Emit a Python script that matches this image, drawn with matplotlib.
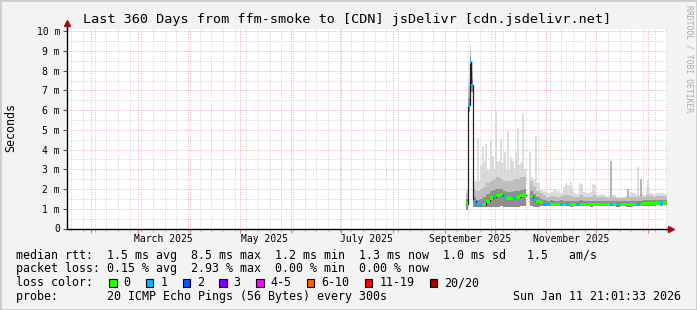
import numpy as np
import pandas as pd
import matplotlib
matplotlib.use("Agg")
import matplotlib.pyplot as plt
import matplotlib.dates as mdates
from matplotlib.ticker import MultipleLocator, FuncFormatter, NullFormatter
from matplotlib.patches import Rectangle

nan = np.nan

# sample times: daily around the spike, then every 2 days
dates = (pd.to_datetime(["2025-09-14", "2025-09-15", "2025-09-16", "2025-09-17"])
         .append(pd.date_range("2025-09-18", "2026-01-10", freq="2D"))
         .append(pd.to_datetime(["2026-01-11"])))

# median rtt in ms
med = [1.26, 6.25, 8.44, 7.26, 1.38, 1.21, 1.21, 1.21, 1.38, 1.55,
       1.62, 1.69, 1.72, 1.58, 1.55, 1.52, 1.55, 1.60, 1.66, 1.70,
       nan, 1.62, 1.45, 1.36, 1.30, 1.25,
       1.22, 1.23, 1.22, 1.22, 1.23, 1.22, 1.22, 1.21, 1.22, 1.22, 1.23, 1.22, 1.22, 1.21, 1.22,
       1.22, 1.22, 1.23, 1.22, 1.22, 1.22, 1.21, 1.22, 1.22, 1.21, 1.20, 1.22, 1.23, 1.22, 1.27, 1.28,
       1.28, 1.28, 1.29, 1.28, 1.29, 1.30]

# lost pings per sample (0 or 1 of 20)
loss = [0, 1, 1, 1, 1, 1, 1, 0, 0, 0,
        1, 0, 0, 1, 0, 0, 1, 0, 0, 0,
        0, 0, 1, 0, 0, 1,
        1, 0, 0, 0, 1, 0, 1, 0, 0, 1, 0, 0, 0, 0, 0,
        0, 0, 0, 0, 1, 0, 1, 0, 0, 0, 0, 0, 1, 0, 0, 0,
        0, 0, 0, 1, 0, 0]

# smoke: lowest ping, top of dark band, top of medium band, highest ping
lo = [0.95, 5.90, 7.90, 6.90, 1.10, 1.08, 1.08, 1.08, 1.09, 1.10,
      1.11, 1.11, 1.12, 1.11, 1.10, 1.10, 1.11, 1.11, 1.12, 1.12,
      nan, 1.12, 1.11, 1.11, 1.12, 1.12,
      1.12, 1.13, 1.12, 1.12, 1.13, 1.12, 1.12, 1.11, 1.12, 1.12, 1.13, 1.12, 1.12, 1.11, 1.12,
      1.12, 1.12, 1.13, 1.12, 1.12, 1.12, 1.11, 1.12, 1.12, 1.11, 1.10, 1.12, 1.13, 1.12, 1.15, 1.16,
      1.16, 1.16, 1.17, 1.16, 1.17, 1.18]

dark_hi = [1.50, 6.60, 8.70, 7.60, 1.60, 1.45, 1.50, 1.60, 1.75, 1.90,
           1.95, 2.00, 2.00, 1.90, 1.85, 1.85, 1.90, 1.90, 1.95, 2.00,
           nan, 1.90, 1.75, 1.60, 1.50, 1.45,
           1.40, 1.42, 1.40, 1.41, 1.42, 1.40, 1.41, 1.39, 1.40, 1.41, 1.42, 1.40, 1.40, 1.39, 1.41,
           1.40, 1.40, 1.41, 1.40, 1.40, 1.41, 1.39, 1.40, 1.40, 1.39, 1.38, 1.40, 1.41, 1.40, 1.44, 1.45,
           1.45, 1.45, 1.46, 1.45, 1.46, 1.46]

mid_hi = [1.80, 7.20, 9.00, 8.00, 2.00, 1.90, 2.00, 2.10, 2.30, 2.40,
          2.50, 2.60, 2.50, 2.40, 2.40, 2.40, 2.50, 2.50, 2.60, 2.60,
          nan, 2.40, 2.10, 1.90, 1.80, 1.70,
          1.62, 1.64, 1.66, 1.62, 1.63, 1.68, 1.70, 1.65, 1.60, 1.60, 1.70, 1.62, 1.60, 1.62, 1.68,
          1.58, 1.60, 1.58, 1.56, 1.58, 1.58, 1.55, 1.55, 1.56, 1.56, 1.62, 1.60, 1.58, 1.60, 1.62, 1.68,
          1.64, 1.62, 1.64, 1.64, 1.63, 1.63]

top = [2.00, 7.60, 9.30, 8.50, 2.40, 2.40, 3.20, 2.80, 3.00, 3.30,
       3.00, 3.40, 3.30, 3.40, 3.00, 3.30, 3.00, 3.20, 3.30, 3.00,
       nan, 2.60, 2.50, 2.30, 2.00, 1.90,
       1.80, 1.85, 2.00, 1.90, 1.80, 2.10, 2.20, 2.00, 1.80, 1.75, 2.25, 1.85, 1.80, 1.85, 2.20,
       1.70, 1.75, 1.70, 1.65, 1.70, 1.70, 1.60, 1.60, 1.60, 1.65, 1.85, 1.80, 1.70, 1.75, 1.70, 2.10,
       1.80, 1.75, 1.80, 1.80, 1.75, 1.75]

# single high pings (light smoke spikes)
spike_dates = ["2025-09-21", "2025-09-24", "2025-09-25", "2025-09-26", "2025-09-29", "2025-09-30",
               "2025-10-02", "2025-10-05", "2025-10-07", "2025-10-09", "2025-10-11", "2025-10-12",
               "2025-10-14", "2025-10-15", "2025-10-18", "2025-10-22", "2025-10-26", "2025-11-13",
               "2025-11-16", "2025-11-21", "2025-11-29", "2025-12-26", "2026-01-01"]
spike_top = [4.6, 4.2, 3.4, 4.3, 4.5, 3.7, 5.95, 4.55, 3.9, 5.0, 3.6, 3.4,
             3.9, 5.1, 5.85, 3.9, 4.7, 2.3, 2.35, 2.3, 2.25, 3.1, 2.45]
# darker spikes (several high pings)
dspike_dates = ["2025-12-10", "2025-12-20", "2025-12-28"]
dspike_top = [3.43, 2.0, 2.5]

title = "Last 360 Days from ffm-smoke to [CDN] jsDelivr [cdn.jsdelivr.net]"
month_labels = ["March 2025", "May 2025", "July 2025", "September 2025", "November 2025"]
month_label_dates = ["2025-03-16", "2025-05-16", "2025-07-16", "2025-09-16", "2025-11-16"]
legend_labels = ["0", "1", "2", "3", "4-5", "6-10", "11-19", "20/20"]
legend_colors = ["#26ff00", "#00b8ff", "#0059ff", "#7e00ff", "#ff00ff", "#ff5e00", "#ff0000", "#a10000"]

W, H = 697, 310
mono = "DejaVu Sans Mono"
plt.rcParams["font.family"] = mono

fig = plt.figure(figsize=(W / 100, H / 100), dpi=100, facecolor="#f3f3f3")
ax = fig.add_axes([67 / W, (H - 228.5) / H, 600 / W, 200 / H])
ax.set_facecolor("white")
ax.xaxis_date()

t0 = pd.Timestamp("2025-01-17 09:36")
t1 = t0 + pd.Timedelta(days=360)
ax.set_xlim(mdates.date2num(t0), mdates.date2num(t1))
ax.set_ylim(0, 10.14)

x = mdates.date2num(dates)
widths = np.diff(np.append(x, mdates.date2num(t1)))
med = np.array(med)
lo = np.array(lo)

# smoke layers
ax.bar(x, np.array(top) - lo, bottom=lo, width=widths, align="edge",
       color="#dcdcdc", linewidth=0, zorder=2)
ax.vlines(mdates.date2num(pd.to_datetime(spike_dates)), 1.2, spike_top,
          color="#d8d8d8", linewidth=1.2, zorder=2)
ax.vlines(mdates.date2num(pd.to_datetime(dspike_dates)), 1.2, dspike_top,
          color="#a8a8a8", linewidth=1.2, zorder=2)
ax.bar(x, np.array(mid_hi) - lo, bottom=lo, width=widths, align="edge",
       color="#bebebe", linewidth=0, zorder=3)
ax.bar(x, np.array(dark_hi) - lo, bottom=lo, width=widths, align="edge",
       color="#8e8e8e", linewidth=0, zorder=3)

# median line and loss coloured band
ax.step(np.append(x, mdates.date2num(t1)), np.append(med, med[-1]), where="post",
        color="#202020", linewidth=0.9, zorder=4)
ax.bar(x, 0.16, bottom=med - 0.08, width=widths, align="edge",
       color=[legend_colors[v] for v in loss], linewidth=0, zorder=5)

# grid
ax.xaxis.set_major_locator(mdates.MonthLocator())
ax.xaxis.set_minor_locator(mdates.WeekdayLocator(byweekday=mdates.MO))
ax.xaxis.set_major_formatter(NullFormatter())
ax.yaxis.set_major_locator(MultipleLocator(1))
ax.yaxis.set_minor_locator(MultipleLocator(0.5))
ax.yaxis.set_major_formatter(FuncFormatter(lambda v, p: "0" if v == 0 else f"{int(v)} m"))
ax.grid(which="major", color="#f0a8a8", linestyle=(0, (1, 1.5)), linewidth=0.7)
ax.grid(which="minor", color="#cfcfcf", linestyle=(0, (1, 1.5)), linewidth=0.7)
ax.set_axisbelow(True)

ax.tick_params(axis="y", which="major", length=3, width=0.8, color="#555555", pad=2, labelsize=7)
ax.tick_params(axis="y", which="minor", length=0)
ax.tick_params(axis="x", which="major", length=3, width=0.8, color="#e08080")
ax.tick_params(axis="x", which="minor", length=2, width=0.8, color="#c0c0c0")

for s in ["top", "right"]:
    ax.spines[s].set_visible(False)
for s in ["left", "bottom"]:
    ax.spines[s].set_color("black")
    ax.spines[s].set_linewidth(1)

# axis arrows
ax.plot([0, 0], [1, 1.03], transform=ax.transAxes, clip_on=False, color="black", lw=1)
ax.plot([0], [1.03], marker="^", ms=5, color="#a01010", transform=ax.transAxes, clip_on=False)
ax.plot([1, 1.006], [0, 0], transform=ax.transAxes, clip_on=False, color="black", lw=1)
ax.plot([1.006], [0], marker=">", ms=5, color="#a01010", transform=ax.transAxes, clip_on=False)

for d, lab in zip(month_label_dates, month_labels):
    ax.text(mdates.date2num(pd.Timestamp(d)), -0.05, lab, transform=ax.get_xaxis_transform(),
            ha="center", va="center", fontsize=7)

# texts
fig.text(0.4986, 1 - 19 / H, title, ha="center", va="center", fontsize=9.7)
fig.text(11 / W, 1 - 128 / H, "Seconds", rotation=90, ha="center", va="center", fontsize=8.4)
fig.text(689 / W, 1 - 5 / H, "RRDTOOL / TOBI OETIKER", rotation=270, ha="center", va="top",
         fontsize=5.8, color="#aaaaaa")

fs = 8.4
fig.text(16 / W, 1 - 255 / H,
         "median rtt:  1.5 ms avg  8.5 ms max  1.2 ms min  1.3 ms now  1.0 ms sd   1.5   am/s",
         va="center", fontsize=fs)
fig.text(16 / W, 1 - 268.5 / H,
         "packet loss: 0.15 % avg  2.93 % max  0.00 % min  0.00 % now",
         va="center", fontsize=fs)
fig.text(16 / W, 1 - 282.5 / H, "loss color:", va="center", fontsize=fs)
bx = 109
for lab, c in zip(legend_labels, legend_colors):
    fig.add_artist(Rectangle((bx / W, 1 - 286.5 / H), 7.5 / W, 8 / H, transform=fig.transFigure,
                             facecolor=c, edgecolor="black", linewidth=0.8))
    fig.text((bx + 14.5) / W, 1 - 282.5 / H, lab, va="center", fontsize=fs)
    bx += len(lab) * 7.05 + 29.7
fig.text(16 / W, 1 - 296.5 / H, "probe:       20 ICMP Echo Pings (56 Bytes) every 300s",
         va="center", fontsize=fs)
fig.text(681 / W, 1 - 296.5 / H, "Sun Jan 11 21:01:33 2026", ha="right", va="center", fontsize=fs)

fig.add_artist(Rectangle((0, 0), 1, 1, transform=fig.transFigure, fill=False,
                         edgecolor="#cccccc", linewidth=2))

fig.savefig("out.png", dpi=100, facecolor=fig.get_facecolor())
